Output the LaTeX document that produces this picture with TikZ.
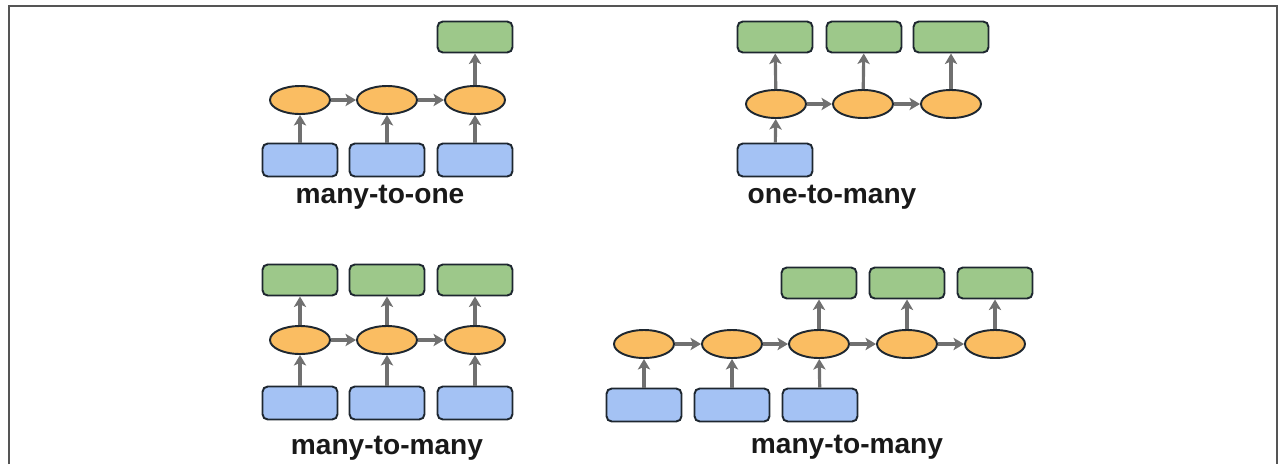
\documentclass[tikz,border=0pt]{standalone}
\usepackage{fontspec}
\setmainfont{Liberation Sans}
\usepackage{tikz}
\usetikzlibrary{arrows.meta}
\usetikzlibrary{shapes.geometric}
\definecolor{inblue}{HTML}{A4C2F4}
\definecolor{outgreen}{HTML}{9DC88A}
\definecolor{hidorange}{HTML}{FABD62}
\definecolor{edgedark}{HTML}{1E2730}
\definecolor{arrowgray}{HTML}{707070}
\definecolor{framegray}{HTML}{555555}

\begin{document}
\begin{tikzpicture}[x=0.02cm,y=-0.02cm]
  \tikzset{inbox/.style = {shape=rectangle,rounded corners=3pt,draw=edgedark,fill=inblue,line width=1.1pt,minimum width=1.5cm,minimum height=0.66cm,inner sep=0pt}}
  \tikzset{outbox/.style = {inbox,fill=outgreen,minimum height=0.62cm}}
  \tikzset{hid/.style = {shape=ellipse,draw=edgedark,fill=hidorange,line width=1.1pt,minimum width=1.2cm,minimum height=0.56cm,inner sep=0pt}}
  \tikzset{link/.style = {-{Stealth[length=6pt,width=7pt,inset=1.5pt]},draw=arrowgray,line width=1.8pt}}
  \tikzset{title/.style = {font=\fontsize{16}{19}\selectfont\bfseries,text=black!90}}

  \useasboundingbox (0,0) rectangle (1282,464);
  \draw[line width=1.2pt,draw=framegray] (9,464) -- (9,6) -- (1277,6) -- (1277,464);

  % many-to-one
	\node[inbox] (A1) at (300,160) {};
	\node[inbox] (A2) at (387,160) {};
	\node[inbox] (A3) at (475,160) {};
	\node[hid] (B1) at (300,100) {};
	\node[hid] (B2) at (387,100) {};
	\node[hid] (B3) at (475,100) {};
	\node[outbox] (C3) at (475,37) {};
	\node[title] (T1) at (380,197) {many-to-one};

  % one-to-many
	\node[inbox] (D1) at (775,160) {};
	\node[hid] (E1) at (776,104) {};
	\node[hid] (E2) at (863,104) {};
	\node[hid] (E3) at (951,104) {};
	\node[outbox] (F1) at (775,37) {};
	\node[outbox] (F2) at (864,37) {};
	\node[outbox] (F3) at (951,37) {};
	\node[title] (T2) at (832,197) {one-to-many};

  % many-to-many (synced)
	\node[inbox] (G1) at (300,403) {};
	\node[inbox] (G2) at (387,403) {};
	\node[inbox] (G3) at (475,403) {};
	\node[hid] (H1) at (300,340) {};
	\node[hid] (H2) at (387,340) {};
	\node[hid] (H3) at (475,340) {};
	\node[outbox] (K1) at (300,280) {};
	\node[outbox] (K2) at (387,280) {};
	\node[outbox] (K3) at (475,280) {};
	\node[title] (T3) at (387,448) {many-to-many};

  % many-to-many (delayed)
	\node[inbox] (L1) at (644,405) {};
	\node[inbox] (L2) at (732,405) {};
	\node[inbox] (L3) at (820,405) {};
	\node[hid] (M1) at (644,344) {};
	\node[hid] (M2) at (732,344) {};
	\node[hid] (M3) at (819,344) {};
	\node[hid] (M4) at (907,344) {};
	\node[hid] (M5) at (995,344) {};
	\node[outbox] (N3) at (819,283) {};
	\node[outbox] (N4) at (907,283) {};
	\node[outbox] (N5) at (995,283) {};
	\node[title] (T4) at (847,447) {many-to-many};

       \foreach \from/\to in {A1/B1, A2/B2, A3/B3, B1/B2, B2/B3, B3/C3,
                              D1/E1, E1/E2, E2/E3, E1/F1, E2/F2, E3/F3,
                              G1/H1, G2/H2, G3/H3, H1/H2, H2/H3, H1/K1, H2/K2, H3/K3,
                              L1/M1, L2/M2, L3/M3, M1/M2, M2/M3, M3/M4, M4/M5, M3/N3, M4/N4, M5/N5}
    \draw[link] (\from) -- (\to);
\end{tikzpicture}
\end{document}
